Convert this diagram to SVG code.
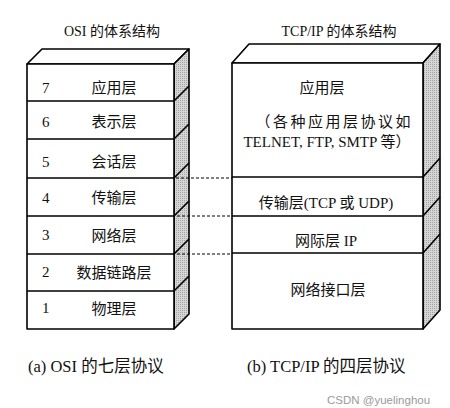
<svg xmlns="http://www.w3.org/2000/svg" width="450" height="408" viewBox="0 0 450 408">
<defs>
<pattern id="stip" width="2" height="2" patternUnits="userSpaceOnUse">
<rect width="2" height="2" fill="#d6d6d6"/>
<rect x="0" y="0" width="1" height="1" fill="#a2a2a2"/>
</pattern>
</defs>
<style>
.face{fill:#fff;stroke:#000;stroke-width:1.6;stroke-linejoin:round}
.side{fill:url(#stip);stroke:#000;stroke-width:1.6;stroke-linejoin:round}
.ln{stroke:#000;stroke-width:1.6;fill:none}
.dash{stroke:#000;stroke-width:1;stroke-dasharray:3 2;fill:none}
text{font-family:"Liberation Serif","Noto Sans CJK SC",serif;fill:#111}
.t{font-size:14px;text-anchor:middle}
.lab{font-size:15px;text-anchor:middle}
.num{font-size:15px}
.cap{font-size:16.5px}
.wm{font-family:"Liberation Sans","Noto Sans",sans-serif;font-size:11.5px;fill:#9a9a9a}
</style>
<rect width="450" height="408" fill="#fff"/>

<text class="t" x="112" y="36">OSI 的体系结构</text>
<text class="t" x="339" y="36">TCP/IP 的体系结构</text>

<g id="osi-box">
<polygon class="face" points="27,64 42,49 189,49 174,64"/>
<polygon class="side" points="174,64 189,49 189,314 174,329"/>
<rect class="face" x="27" y="64" width="147" height="265"/>
<path class="ln" d="M27,101H174M27,139H174M27,178H174M27,216H174M27,254H174M27,291H174"/>
<path class="ln" d="M174,101l15,-15M174,139l15,-15M174,178l15,-15M174,216l15,-15M174,254l15,-15M174,291l15,-15"/>
</g>
<g id="osi-7"><text class="num" x="42" y="93">7</text><text class="lab" x="114" y="93">应用层</text></g>
<g id="osi-6"><text class="num" x="42" y="127">6</text><text class="lab" x="114" y="127">表示层</text></g>
<g id="osi-5"><text class="num" x="42" y="167">5</text><text class="lab" x="114" y="167">会话层</text></g>
<g id="osi-4"><text class="num" x="42" y="203">4</text><text class="lab" x="114" y="203">传输层</text></g>
<g id="osi-3"><text class="num" x="42" y="240">3</text><text class="lab" x="114" y="241">网络层</text></g>
<g id="osi-2"><text class="num" x="42" y="277">2</text><text class="lab" x="114" y="278">数据链路层</text></g>
<g id="osi-1"><text class="num" x="42" y="313">1</text><text class="lab" x="114" y="314">物理层</text></g>

<g id="tcpip-box">
<polygon class="face" points="232,63 249,44 440,44 423,63"/>
<polygon class="side" points="423,63 440,44 440,310 423,329"/>
<rect class="face" x="232" y="63" width="191" height="266"/>
<path class="ln" d="M232,177H423M232,216H423M232,253H423"/>
<path class="ln" d="M423,177l17,-19M423,216l17,-19M423,253l17,-19"/>
</g>
<g id="tcpip-app">
<text class="lab" x="322" y="93">应用层</text>
<text class="lab" x="255.5" y="127" style="text-anchor:start;letter-spacing:2.5px">（各种应用层协议如</text>
<text class="lab" x="327" y="147">TELNET, FTP, SMTP 等）</text>
</g>
<g id="tcpip-transport"><text class="lab" x="326" y="208">传输层(TCP 或 UDP)</text></g>
<g id="tcpip-internet"><text class="lab" x="326" y="246">网际层 IP</text></g>
<g id="tcpip-link"><text class="lab" x="328" y="295">网络接口层</text></g>

<g id="connectors">
<path class="dash" d="M176,178H232"/>
<path class="dash" d="M177,216H232"/>
<path class="dash" d="M177,254H232"/>
</g>

<text class="cap" x="28" y="372">(a) OSI 的七层协议</text>
<text class="cap" x="247" y="372">(b) TCP/IP 的四层协议</text>
<text class="wm" x="327" y="404">CSDN @yuelinghou</text>
</svg>
